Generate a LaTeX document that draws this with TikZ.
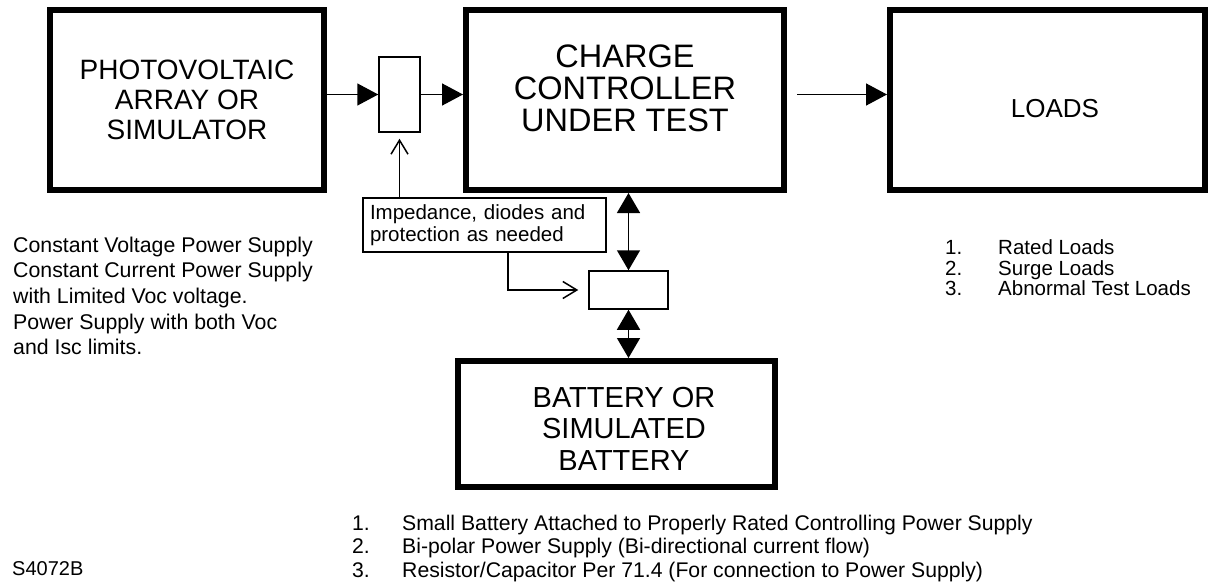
\documentclass[tikz,border=0pt]{standalone}
\usepackage{fontspec}
\setmainfont{Liberation Sans}
\usetikzlibrary{arrows.meta}

\begin{document}
\begin{tikzpicture}
[x=1pt,y=-1pt,
 bigbox/.style={draw,line width=6pt,inner sep=0pt},
 smallbox/.style={draw,line width=1.5pt,inner sep=0pt},
 boxlabel/.style={align=center,inner sep=0pt},
 listtext/.style={align=left,inner sep=0pt,anchor=north west},
 fat/.style={line width=1.5pt,-{Triangle[length=21pt,width=22pt]}},
 fatboth/.style={line width=1.5pt,{Triangle[length=20pt,width=23pt]}-{Triangle[length=20pt,width=23pt]}},
 barb/.style={line width=1.5pt,-{Straight Barb[length=14pt,width=17pt]}}]
\useasboundingbox (0,0) rectangle (1214,588);

% blocks
\node[bigbox,minimum width=274pt,minimum height=180pt] (pv) at (187,100) {};
\node[bigbox,minimum width=318pt,minimum height=180pt] (cc) at (625,100) {};
\node[bigbox,minimum width=315pt,minimum height=180pt] (loads) at (1047.5,100) {};
\node[bigbox,minimum width=317pt,minimum height=126pt] (bat) at (616.5,424) {};

\node[boxlabel,font=\fontsize{28}{30}\selectfont] (pvlabel) at (187,100) {PHOTOVOLTAIC\\ARRAY OR\\SIMULATOR};
\node[boxlabel,font=\fontsize{32.5}{32}\selectfont] (cclabel) at (625,88) {CHARGE\\CONTROLLER\\UNDER TEST};
\node[boxlabel,font=\fontsize{26}{30}\selectfont] (loadslabel) at (1055,109) {LOADS};
\node[boxlabel,font=\fontsize{29}{31.5}\selectfont] (batlabel) at (624,428.5) {BATTERY OR\\SIMULATED\\BATTERY};

% protection boxes
\node[smallbox,minimum width=41pt,minimum height=75pt] (fa) at (399.5,94.5) {};
\node[smallbox,minimum width=79pt,minimum height=38pt] (fb) at (628.5,290) {};
\node[smallbox,text width=229pt,inner xsep=7pt,minimum height=54pt,align=left,
      font=\fontsize{20.5}{22}\selectfont] (note) at (484.5,225)
      {Impedance, diodes and\\protection as needed};

% connections
\draw[fat] (fa.west -| pv.east) -- (fa.west);
\draw[fat] (fa.east) -- (fa.east -| cc.west);
\path (cc.east |- fa.east) ++(10,0) coordinate (ccout);
\draw[fat] (ccout) -- (ccout -| loads.west);
\draw[fatboth] (fb.north) -- (fb.north |- cc.south);
\draw[fatboth] (fb.south) -- (fb.south |- bat.north);
\draw[barb,shorten >=6pt] (fa.south |- note.north) -- (fa.south);
\draw[barb,shorten >=10pt] ([xshift=23.5pt]note.south) |- (fb.west);

% notes
\node[listtext,font=\fontsize{21.3}{25.7}\selectfont] (pvnote) at (13,236.5)
  {Constant Voltage Power Supply\\Constant Current Power Supply\\with Limited Voc voltage.\\Power Supply with both Voc\\and Isc limits.};
\node[listtext,font=\fontsize{20.5}{20.5}\selectfont] (loadsnote) at (945,239.5)
  {\makebox[53pt][l]{1.}Rated Loads\\\makebox[53pt][l]{2.}Surge Loads\\\makebox[53pt][l]{3.}Abnormal Test Loads};
\node[listtext,font=\fontsize{21.2}{23.5}\selectfont] (batnote) at (352,514.5)
  {\makebox[50pt][l]{1.}Small Battery Attached to Properly Rated Controlling Power Supply\\
   \makebox[50pt][l]{2.}Bi-polar Power Supply (Bi-directional current flow)\\
   \makebox[50pt][l]{3.}Resistor/Capacitor Per 71.4 (For connection to Power Supply)};
\node[anchor=base west,inner sep=0pt,font=\fontsize{20}{24}\selectfont] (drawno) at (12,575) {S4072B};
\end{tikzpicture}
\end{document}
